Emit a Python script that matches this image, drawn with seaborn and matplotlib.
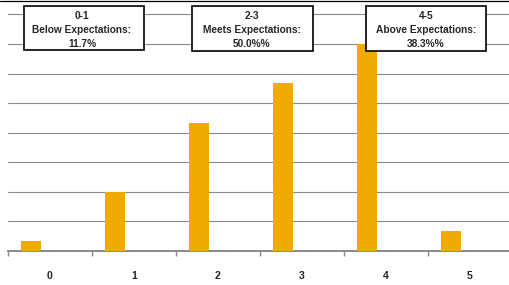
import matplotlib
matplotlib.use("Agg")
import matplotlib.pyplot as plt
from matplotlib.patches import Rectangle
from matplotlib.ticker import FixedLocator, MultipleLocator
import pandas as pd
import seaborn as sns

# ratings and number of responses (grid step = 3)
scores = ["0", "1", "2", "3", "4", "5"]
counts = [1, 6, 13, 17, 21, 2]

# summary boxes above the bars
box_labels = [
    "0-1\nBelow Expectations:\n11.7%",
    "2-3\nMeets Expectations:\n50.0%%",
    "4-5\nAbove Expectations:\n38.3%%",
]

W, H = 510, 285


def px(x, y):
    # pixel position (from top-left) -> figure fraction
    return x / W, 1 - y / H


def main():
    sns.set_style("white")
    plt.rcParams["font.family"] = ["Liberation Sans", "DejaVu Sans"]

    df = pd.DataFrame({"score": scores, "count": counts})

    fig = plt.figure(figsize=(W / 100, H / 100), dpi=100)
    ax = fig.add_axes([8 / W, (H - 250.7) / H, 504 / W, 250.7 / H])

    sns.barplot(data=df, x="score", y="count", color="#F0AB00",
                width=0.24, saturation=1, linewidth=0, ax=ax, zorder=3)
    # bars sit to the left of each category centre
    for p in ax.patches:
        p.set_x(p.get_x() - 0.23)

    ax.set_xlim(-0.5, 5.5)
    ax.set_ylim(0, 25.47)
    ax.yaxis.set_major_locator(MultipleLocator(3))
    ax.set_yticklabels([])
    ax.tick_params(axis="y", length=0)
    ax.grid(axis="y", color="#8a8a8a", linewidth=0.8, zorder=0)
    ax.set_xlabel("")
    ax.set_ylabel("")

    ax.xaxis.set_minor_locator(FixedLocator([i - 0.5 for i in range(7)]))
    ax.tick_params(axis="x", which="major", bottom=True, length=0,
                   pad=14.5, labelsize=7.6)
    ax.tick_params(axis="x", which="minor", bottom=True, length=3.4,
                   width=1, color="#8a8a8a", direction="out")
    for t in ax.get_xticklabels():
        t.set_fontweight("bold")

    for side in ["left", "right", "top"]:
        ax.spines[side].set_visible(False)
    ax.spines["bottom"].set_color("#8a8a8a")
    ax.spines["bottom"].set_linewidth(1.4)

    # chart area top border
    fig.add_artist(plt.Line2D([0, 1], [1 - 0.6 / H] * 2, color="black",
                              linewidth=0.9, transform=fig.transFigure))

    boxes = [(24, 6, 120, 44), (192, 6, 121, 45), (366, 6, 120, 45)]
    centres = [82, 252, 426]
    for (bx, by, bw, bh), cx, label in zip(boxes, centres, box_labels):
        x0, y1 = px(bx, by + bh)
        fig.add_artist(Rectangle((x0, y1), bw / W, bh / H, fill=True,
                                 facecolor="white", edgecolor="black",
                                 linewidth=1.2, transform=fig.transFigure,
                                 zorder=5))
        tx, ty = px(cx, 30)
        fig.text(tx, ty, label, ha="center", va="center", fontsize=7.3,
                 fontweight="bold", linespacing=1.5, zorder=6)

    fig.savefig("out.png", dpi=100)
    plt.close(fig)


if __name__ == "__main__":
    main()
